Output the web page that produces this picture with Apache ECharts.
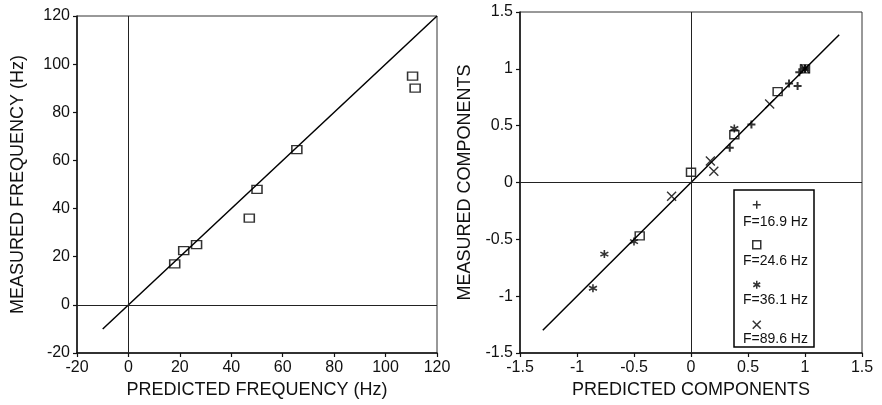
<!DOCTYPE html>
<html>
<head>
<meta charset="utf-8">
<title>Predicted vs measured</title>
<script src="https://cdn.jsdelivr.net/npm/echarts@6/dist/echarts.min.js"></script>
<style>
  html, body { margin: 0; padding: 0; background: #fff; }
  #chart { width: 882px; height: 405px; }
</style>
</head>
<body>
<div id="chart"></div>
<script>
// left panel: natural frequencies (Hz)
var freqPredicted = [18, 21.5, 26.5, 47, 50, 65.5, 110.5, 111.5];
var freqMeasured = [17, 22.5, 25, 36, 48, 64.5, 95, 90];
var freqLine = [-10, 120]; // ends of the 1:1 line

// right panel: mode shape components, one pair of arrays per mode
var compLine = [-1.3, 1.3];
var f169Pred = [0.34, 0.53, 0.86, 0.935, 0.95, 1];
var f169Meas = [0.305, 0.51, 0.87, 0.85, 0.97, 1];
var f246Pred = [-0.45, 0.0, 0.38, 0.76, 1];
var f246Meas = [-0.47, 0.09, 0.42, 0.8, 1];
var f361Pred = [-0.86, -0.76, -0.5, 0.38, 1];
var f361Meas = [-0.93, -0.63, -0.52, 0.475, 1];
var f896Pred = [-0.17, 0.17, 0.2, 0.69, 1];
var f896Meas = [-0.12, 0.19, 0.1, 0.69, 1];
var legendNames = ['F=16.9 Hz', 'F=24.6 Hz', 'F=36.1 Hz', 'F=89.6 Hz'];

var FONT = '"Liberation Sans", Arial, Helvetica, sans-serif';

function pairs(xs, ys) {
  return xs.map(function (x, i) { return [x, ys[i]]; });
}

// common look for all four axes
function axis(opt) {
  return Object.assign({
    type: 'value',
    nameLocation: 'middle',
    nameTextStyle: { fontSize: 18, color: '#111', fontFamily: FONT },
    axisLine: { show: true, onZero: false, lineStyle: { color: '#111', width: 1.5 } },
    axisTick: { show: true, inside: false, length: 4, lineStyle: { color: '#111', width: 1.2 } },
    axisLabel: { fontSize: 16, color: '#111', fontFamily: FONT, margin: 7 },
    splitLine: { show: false }
  }, opt);
}

var zeroLines = {
  silent: true,
  symbol: 'none',
  animation: false,
  label: { show: false },
  lineStyle: { color: '#222', width: 1, type: 'solid' },
  data: [{ xAxis: 0 }, { yAxis: 0 }]
};

var markStyle = { color: 'transparent', borderColor: '#000', borderWidth: 1.4 };

var chart = echarts.init(document.getElementById('chart'));

var option = {
  animation: false,
  textStyle: { fontFamily: FONT },
  grid: [
    { left: 77, top: 16, width: 360, height: 337, show: true, borderColor: '#333', borderWidth: 1 },
    { left: 520, top: 12, width: 342, height: 341, show: true, borderColor: '#333', borderWidth: 1 }
  ],
  xAxis: [
    axis({ gridIndex: 0, min: -20, max: 120, interval: 20, name: 'PREDICTED FREQUENCY (Hz)', nameGap: 28 }),
    axis({ gridIndex: 1, min: -1.5, max: 1.5, interval: 0.5, name: 'PREDICTED COMPONENTS', nameGap: 28 })
  ],
  yAxis: [
    axis({ gridIndex: 0, min: -20, max: 120, interval: 20, name: 'MEASURED FREQUENCY (Hz)', nameGap: 50 }),
    axis({ gridIndex: 1, min: -1.5, max: 1.5, interval: 0.5, name: 'MEASURED COMPONENTS', nameGap: 46 })
  ],
  // the legend puts each symbol above its label, so symbols and labels are two legends
  legend: [
    {
      data: legendNames,
      orient: 'vertical',
      selectedMode: false,
      left: 752,
      top: 200,
      padding: 0,
      itemWidth: 8,
      itemHeight: 8,
      itemGap: 30.5,
      itemStyle: { borderWidth: 1.5 },
      formatter: function () { return ''; },
      textStyle: { fontSize: 8, lineHeight: 8 }
    },
    {
      data: legendNames,
      orient: 'vertical',
      selectedMode: false,
      left: 737,
      top: 215,
      padding: 0,
      itemWidth: 0,
      itemHeight: 14,
      itemGap: 24.3,
      itemStyle: { opacity: 0 },
      textStyle: { fontSize: 14, lineHeight: 14, color: '#111', fontFamily: FONT }
    }
  ],
  graphic: [
    {
      type: 'rect',
      shape: { x: 734, y: 190, width: 80, height: 157 },
      style: { fill: 'none', stroke: '#000', lineWidth: 1.5 },
      silent: true
    }
  ],
  series: [
    {
      type: 'line',
      xAxisIndex: 0, yAxisIndex: 0,
      data: pairs(freqLine, freqLine),
      symbol: 'none',
      lineStyle: { color: '#000', width: 1.5 },
      markLine: zeroLines
    },
    {
      type: 'scatter',
      xAxisIndex: 0, yAxisIndex: 0,
      data: pairs(freqPredicted, freqMeasured),
      symbol: 'rect',
      symbolSize: [10, 8],
      itemStyle: markStyle
    },
    {
      type: 'line',
      xAxisIndex: 1, yAxisIndex: 1,
      data: pairs(compLine, compLine),
      symbol: 'none',
      lineStyle: { color: '#000', width: 1.5 },
      markLine: zeroLines
    },
    {
      name: legendNames[0],
      type: 'scatter',
      xAxisIndex: 1, yAxisIndex: 1,
      data: pairs(f169Pred, f169Meas),
      symbol: 'path://M0,-5L0,5M-5,0L5,0',
      symbolSize: 8,
      itemStyle: { color: 'transparent', borderColor: '#000', borderWidth: 2 }
    },
    {
      name: legendNames[1],
      type: 'scatter',
      xAxisIndex: 1, yAxisIndex: 1,
      data: pairs(f246Pred, f246Meas),
      symbol: 'rect',
      symbolSize: [9, 8],
      itemStyle: markStyle
    },
    {
      name: legendNames[2],
      type: 'scatter',
      xAxisIndex: 1, yAxisIndex: 1,
      data: pairs(f361Pred, f361Meas),
      symbol: 'path://M0,-5L0,5M-4.33,-2.5L4.33,2.5M-4.33,2.5L4.33,-2.5',
      symbolSize: 8,
      itemStyle: { color: 'transparent', borderColor: '#000', borderWidth: 1.6 }
    },
    {
      name: legendNames[3],
      type: 'scatter',
      xAxisIndex: 1, yAxisIndex: 1,
      data: pairs(f896Pred, f896Meas),
      symbol: 'path://M-5,-5L5,5M-5,5L5,-5',
      symbolSize: 9,
      itemStyle: { color: 'transparent', borderColor: '#000', borderWidth: 1.4 }
    }
  ]
};

chart.setOption(option);
</script>
</body>
</html>
